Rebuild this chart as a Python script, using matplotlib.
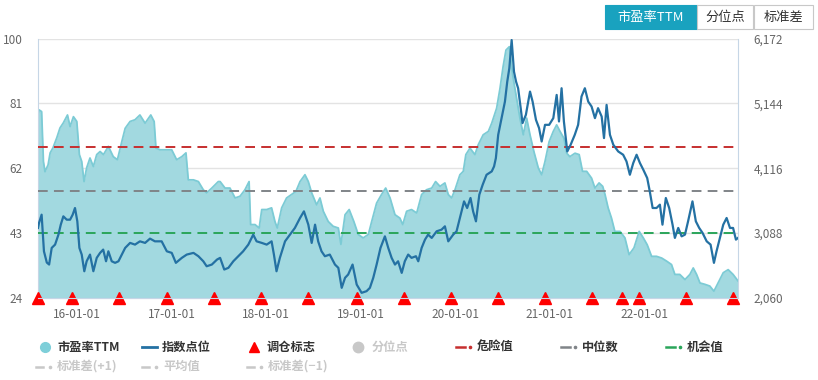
import matplotlib
matplotlib.use("Agg")
import matplotlib.pyplot as plt
import matplotlib.dates as mdates
from matplotlib.ticker import FuncFormatter
from matplotlib.patches import Rectangle
import pandas as pd

plt.rcParams['font.family'] = ['Noto Sans CJK SC', 'DejaVu Sans']

# ---------------- data ----------------
pe_dates = [
    "2015-08-03", "2015-08-07", "2015-08-17", "2015-08-24", "2015-08-30", "2015-09-11", "2015-09-19",
    "2015-09-30", "2015-10-15", "2015-10-27", "2015-11-09", "2015-11-25", "2015-12-05", "2015-12-18",
    "2015-12-31", "2016-01-10", "2016-01-19", "2016-01-28", "2016-02-07", "2016-02-20", "2016-03-04",
    "2016-03-17", "2016-03-30", "2016-04-12", "2016-05-01", "2016-05-20", "2016-06-05", "2016-06-22",
    "2016-07-05", "2016-07-24", "2016-08-12", "2016-08-31", "2016-09-20", "2016-10-12", "2016-10-25",
    "2016-11-01", "2016-11-17", "2016-12-13", "2017-01-01", "2017-01-20", "2017-02-09", "2017-02-25",
    "2017-03-06", "2017-03-26", "2017-04-14", "2017-05-03", "2017-05-16", "2017-06-05", "2017-06-30",
    "2017-07-07", "2017-07-26", "2017-08-14", "2017-09-03", "2017-09-22", "2017-10-11", "2017-10-27",
    "2017-11-02", "2017-11-19", "2017-12-05", "2017-12-15", "2018-01-03", "2018-01-22", "2018-02-04",
    "2018-02-13", "2018-03-02", "2018-03-21", "2018-04-09", "2018-04-26", "2018-05-12", "2018-05-31",
    "2018-06-13", "2018-06-26", "2018-07-15", "2018-07-28", "2018-08-10", "2018-08-29", "2018-09-17",
    "2018-10-07", "2018-10-17", "2018-11-02", "2018-11-18", "2018-12-06", "2018-12-23", "2019-01-11",
    "2019-01-31", "2019-02-13", "2019-03-04", "2019-03-23", "2019-04-08", "2019-04-25", "2019-05-14",
    "2019-06-02", "2019-06-13", "2019-06-28", "2019-07-17", "2019-08-06", "2019-08-25", "2019-09-13",
    "2019-10-03", "2019-10-18", "2019-11-04", "2019-11-23", "2019-12-06", "2019-12-19", "2020-01-01",
    "2020-01-20", "2020-02-02", "2020-02-12", "2020-02-28", "2020-03-18", "2020-03-31", "2020-04-19",
    "2020-05-09", "2020-05-22", "2020-06-10", "2020-06-23", "2020-07-05", "2020-07-16", "2020-07-29",
    "2020-08-11", "2020-08-24", "2020-09-08", "2020-09-21", "2020-10-04", "2020-10-17", "2020-11-01",
    "2020-11-18", "2020-12-01", "2020-12-14", "2020-12-30", "2021-01-15", "2021-01-28", "2021-02-10",
    "2021-02-25", "2021-03-08", "2021-03-20", "2021-04-09", "2021-04-25", "2021-05-08", "2021-05-24",
    "2021-06-12", "2021-06-25", "2021-07-11", "2021-07-25", "2021-08-03", "2021-08-15", "2021-08-28",
    "2021-09-10", "2021-09-30", "2021-10-19", "2021-11-04", "2021-11-23", "2021-12-13", "2021-12-29",
    "2022-01-13", "2022-01-30", "2022-02-18", "2022-03-10", "2022-03-29", "2022-04-17", "2022-04-30",
    "2022-05-19", "2022-06-08", "2022-06-27", "2022-07-10", "2022-07-23", "2022-08-05", "2022-08-24",
    "2022-09-12", "2022-09-28", "2022-10-14", "2022-11-03", "2022-11-22", "2022-12-11", "2022-12-30",
]
pe_values = [
    78.0, 79.1, 78.6, 64.0, 61.0, 63.0, 66.5,
    68.0, 71.0, 73.8, 75.3, 77.6, 74.2, 77.1,
    75.7, 66.0, 64.0, 58.1, 62.1, 65.0, 62.5,
    66.0, 66.9, 66.0, 68.4, 65.4, 64.5, 69.8,
    73.7, 75.7, 76.2, 77.6, 75.2, 77.6, 75.7,
    67.9, 67.4, 67.4, 67.4, 64.5, 65.4, 66.5,
    58.6, 58.6, 58.1, 55.7, 54.8, 56.2, 58.1,
    58.1, 56.2, 56.2, 53.3, 53.8, 55.7, 58.1,
    45.5, 45.5, 44.5, 49.9, 49.9, 50.4, 46.4,
    44.5, 50.4, 53.3, 54.3, 55.2, 58.1, 60.1,
    58.1, 54.8, 51.3, 53.3, 49.4, 46.4, 45.0,
    44.5, 39.7, 48.4, 49.9, 46.4, 42.6, 41.6,
    42.6, 46.4, 51.8, 54.3, 56.2, 53.3, 48.4,
    47.4, 45.5, 49.4, 49.9, 48.9, 54.3, 55.7,
    56.2, 58.1, 56.7, 57.7, 54.3, 53.3, 55.7,
    60.1, 61.1, 66.0, 67.9, 66.0, 68.9, 71.8,
    72.8, 75.2, 79.6, 85.4, 91.8, 96.6, 97.6,
    89.3, 83.5, 76.7, 71.8, 76.7, 71.8, 66.9,
    62.1, 60.1, 64.0, 69.8, 72.8, 74.7, 72.8,
    70.8, 66.4, 65.4, 66.4, 66.0, 61.1, 61.1,
    59.1, 56.2, 57.7, 56.7, 54.3, 50.4, 47.4,
    43.5, 43.5, 41.6, 36.7, 38.7, 43.5, 41.6,
    39.6, 36.2, 36.2, 35.7, 34.8, 33.8, 30.9,
    30.9, 29.4, 30.9, 32.8, 30.9, 28.4, 28.0,
    27.5, 26.0, 28.4, 31.4, 32.3, 30.9, 29.0,
]

idx_dates = [
    "2015-08-03", "2015-08-07", "2015-08-17", "2015-08-26", "2015-09-06", "2015-09-15", "2015-09-25",
    "2015-10-08", "2015-10-21", "2015-10-30", "2015-11-09", "2015-11-22", "2015-12-05", "2015-12-15",
    "2015-12-24", "2016-01-02", "2016-01-10", "2016-01-19", "2016-01-29", "2016-02-07", "2016-02-20",
    "2016-03-04", "2016-03-17", "2016-03-30", "2016-04-11", "2016-04-22", "2016-05-01", "2016-05-14",
    "2016-05-27", "2016-06-09", "2016-06-22", "2016-07-05", "2016-07-24", "2016-08-12", "2016-08-31",
    "2016-09-20", "2016-10-09", "2016-10-28", "2016-11-23", "2016-12-13", "2017-01-01", "2017-01-17",
    "2017-02-09", "2017-02-28", "2017-03-26", "2017-04-14", "2017-05-03", "2017-05-16", "2017-06-05",
    "2017-06-25", "2017-07-07", "2017-07-23", "2017-08-08", "2017-08-27", "2017-09-15", "2017-10-04",
    "2017-10-24", "2017-11-12", "2017-11-25", "2017-12-15", "2018-01-03", "2018-01-22", "2018-01-31",
    "2018-02-10", "2018-02-23", "2018-03-15", "2018-04-03", "2018-04-22", "2018-05-12", "2018-05-27",
    "2018-06-13", "2018-06-26", "2018-07-09", "2018-07-21", "2018-08-03", "2018-08-16", "2018-09-04",
    "2018-09-24", "2018-10-07", "2018-10-20", "2018-11-02", "2018-11-14", "2018-12-01", "2018-12-17",
    "2019-01-05", "2019-01-24", "2019-02-06", "2019-02-19", "2019-03-04", "2019-03-19", "2019-04-05",
    "2019-04-18", "2019-05-01", "2019-05-14", "2019-05-26", "2019-06-09", "2019-06-21", "2019-07-04",
    "2019-07-17", "2019-08-03", "2019-08-12", "2019-08-25", "2019-09-07", "2019-09-19", "2019-10-03",
    "2019-10-22", "2019-11-10", "2019-11-23", "2019-12-06", "2019-12-25", "2020-01-07", "2020-01-20",
    "2020-02-05", "2020-02-17", "2020-03-01", "2020-03-11", "2020-03-22", "2020-04-04", "2020-04-17",
    "2020-05-02", "2020-05-22", "2020-05-31", "2020-06-07", "2020-06-16", "2020-06-29", "2020-07-12",
    "2020-07-21", "2020-07-29", "2020-08-07", "2020-08-16", "2020-08-24", "2020-09-01", "2020-09-11",
    "2020-09-18", "2020-10-01", "2020-10-17", "2020-10-27", "2020-11-09", "2020-11-21", "2020-12-01",
    "2020-12-14", "2020-12-30", "2021-01-15", "2021-01-28", "2021-02-06", "2021-02-16", "2021-02-25",
    "2021-03-10", "2021-03-23", "2021-04-08", "2021-04-21", "2021-05-04", "2021-05-17", "2021-05-30",
    "2021-06-12", "2021-06-25", "2021-07-07", "2021-07-21", "2021-07-30", "2021-08-09", "2021-08-22",
    "2021-09-04", "2021-09-23", "2021-10-12", "2021-10-25", "2021-11-07", "2021-11-20", "2021-12-03",
    "2021-12-16", "2021-12-29", "2022-01-13", "2022-01-23", "2022-02-03", "2022-02-18", "2022-03-03",
    "2022-03-13", "2022-03-26", "2022-04-08", "2022-04-21", "2022-04-30", "2022-05-13", "2022-05-26",
    "2022-06-08", "2022-06-20", "2022-07-07", "2022-07-20", "2022-08-02", "2022-08-15", "2022-08-31",
    "2022-09-15", "2022-09-28", "2022-10-08", "2022-10-21", "2022-11-03", "2022-11-16", "2022-11-29",
    "2022-12-11", "2022-12-22", "2022-12-30",
]
idx_values = [
    3170, 3250, 3380, 2800, 2622, 2590, 2854,
    2906, 3064, 3222, 3354, 3301, 3301, 3380,
    3486, 3275, 2854, 2748, 2484, 2642, 2748,
    2484, 2696, 2775, 2827, 2642, 2800, 2642,
    2617, 2642, 2748, 2854, 2933, 2906, 2958,
    2933, 3001, 2958, 2958, 2800, 2775, 2617,
    2696, 2748, 2775, 2722, 2642, 2563, 2590,
    2669, 2696, 2511, 2538, 2642, 2722, 2800,
    2906, 3064, 2958, 2933, 2906, 2958, 2748,
    2484, 2696, 2958, 3064, 3170, 3328, 3433,
    3222, 2933, 3222, 2958, 2800, 2722, 2748,
    2590, 2538, 2221, 2380, 2432, 2590, 2273,
    2142, 2168, 2221, 2380, 2590, 2854, 3037,
    2854, 2696, 2590, 2642, 2458, 2642, 2748,
    2696, 2722, 2642, 2854, 2985, 3064, 3012,
    3117, 3143, 3196, 2958, 3064, 3117, 3328,
    3591, 3486, 3645, 3433, 3275, 3697, 3855,
    4013, 4066, 4145, 4277, 4646, 4910, 5172,
    5489, 5700, 6148, 5647, 5489, 5384, 5068,
    4831, 4962, 5331, 5172, 4883, 4752, 4540,
    4804, 4804, 4910, 5278, 4857, 5384, 4857,
    4382, 4488, 4646, 4804, 5252, 5384, 5172,
    5094, 4910, 5068, 4935, 4594, 5120, 4646,
    4488, 4382, 4330, 4224, 4013, 4198, 4330,
    4198, 4092, 3961, 3749, 3486, 3486, 3539,
    3222, 3645, 3486, 3222, 3012, 3170, 3037,
    3064, 3275, 3591, 3275, 3170, 3091, 2958,
    2906, 2617, 2800, 3012, 3222, 3328, 3170,
    3170, 2985, 3012,
]

rebalance_dates = [
    "2015-08-03", "2015-12-14", "2016-06-13", "2016-12-12", "2017-06-12", "2017-12-11",
    "2018-06-11", "2018-12-17", "2019-06-17", "2019-12-16", "2020-06-15", "2020-12-14",
    "2021-06-15", "2021-10-08", "2021-12-13", "2022-06-13", "2022-12-12",
]

danger_value = 68.2
median_value = 55.4
chance_value = 42.9

pe_ticks = [24, 43, 62, 81, 100]
idx_ticks = [2060, 3088, 4116, 5144, 6172]
x_tick_dates = ["2016-01-01", "2017-01-01", "2018-01-01", "2019-01-01",
                "2020-01-01", "2021-01-01", "2022-01-01"]

buttons = ["市盈率TTM", "分位点", "标准差"]
legend_row1 = ["市盈率TTM", "指数点位", "调仓标志", "分位点", "危险值", "中位数", "机会值"]
legend_row2 = ["标准差(+1)", "平均值", "标准差(−1)"]

# ---------------- style ----------------
FILL = "#a2d9e0"
EDGE = "#7ccbd5"
IDX = "#2471a3"
RED = "#c62f2f"
GREY = "#808488"
GREEN = "#2aa55a"
GRID = "#e3e3e3"
AXIS = "#c6d6e6"
TXT = "#666666"
W, H = 818, 380

pe_d = pd.to_datetime(pe_dates)
idx_d = pd.to_datetime(idx_dates)
reb_d = pd.to_datetime(rebalance_dates)

fig = plt.figure(figsize=(W / 100, H / 100), dpi=100)
L, R, T, B = 38, 738, 38.5, 298
ax = fig.add_axes([L / W, 1 - B / H, (R - L) / W, (B - T) / H])
ax2 = ax.twinx()

# PE area
ax.fill_between(pe_d, pe_values, pe_ticks[0], color=FILL, lw=0, zorder=1)
ax.plot(pe_d, pe_values, color=EDGE, lw=1.3, zorder=2)

# threshold lines
for v, c in [(danger_value, RED), (median_value, GREY), (chance_value, GREEN)]:
    ax.axhline(v, color=c, lw=1.4, dashes=(5, 3.2), zorder=3)

# rebalance markers
ax.plot(reb_d, [pe_ticks[0]] * len(reb_d), linestyle="none", marker="^",
        color="#ff0000", markersize=8, clip_on=False, zorder=6)

# index line
ax2.plot(idx_d, idx_values, color=IDX, lw=1.6, zorder=4)

xmin = min(pe_d.min(), idx_d.min())
xmax = max(pe_d.max(), idx_d.max())
ax.set_xlim(xmin, xmax)
ax.set_ylim(pe_ticks[0], pe_ticks[-1])
ax2.set_ylim(idx_ticks[0], idx_ticks[-1])

ax.set_yticks(pe_ticks)
ax2.set_yticks(idx_ticks)
ax2.yaxis.set_major_formatter(FuncFormatter(lambda v, p: f"{int(round(v)):,}"))
ax.set_xticks(pd.to_datetime(x_tick_dates))
ax.xaxis.set_major_formatter(mdates.DateFormatter("%y-%m-%d"))

ax.grid(axis="y", color=GRID, lw=1.0, zorder=0)
ax.set_axisbelow(True)
for a in (ax, ax2):
    a.spines["top"].set_visible(False)
    a.spines["left"].set_color(AXIS)
    a.spines["right"].set_color(AXIS)
    a.spines["bottom"].set_color(AXIS)
    a.tick_params(axis="y", length=0, labelsize=8.5, labelcolor=TXT)
ax.spines["right"].set_visible(False)
ax2.spines["left"].set_visible(False)
ax.tick_params(axis="x", length=4, color=AXIS, labelsize=8.5, labelcolor=TXT, pad=3)
ax.tick_params(axis="y", pad=11)
ax2.tick_params(axis="y", pad=11)

# ---------------- overlay: buttons + legend ----------------
ov = fig.add_axes([0, 0, 1, 1])
ov.set_xlim(0, W)
ov.set_ylim(H, 0)
ov.axis("off")
ov.patch.set_alpha(0)

btn_x = [605, 697, 754]
btn_w = [92, 56, 59]
for i, (lbl, bx, bw) in enumerate(zip(buttons, btn_x, btn_w)):
    sel = i == 0
    ov.add_patch(Rectangle((bx, 5), bw, 24, facecolor="#19a2bf" if sel else "white",
                           edgecolor="#19a2bf" if sel else "#c8c8c8", lw=0.8))
    ov.text(bx + bw / 2, 17.5, lbl, ha="center", va="center", fontsize=9.5,
            color="white" if sel else "#333333")

DARK = "#333333"
LIGHT = "#c8c8c8"
y1, y2 = 347, 366.5
fs = 8.8
# row 1
ov.plot([45], [y1], marker="o", markersize=7, color="#7ecfd9", linestyle="none")
ov.text(57, y1, legend_row1[0], va="center", fontsize=fs, color=DARK, fontweight="bold")
ov.plot([142, 157], [y1, y1], color=IDX, lw=2)
ov.text(162, y1, legend_row1[1], va="center", fontsize=fs, color=DARK, fontweight="bold")
ov.plot([254], [y1], marker="^", markersize=6.5, color="#ff0000", linestyle="none")
ov.text(267, y1, legend_row1[2], va="center", fontsize=fs, color=DARK, fontweight="bold")
ov.plot([358], [y1], marker="o", markersize=7.5, color=LIGHT, linestyle="none")
ov.text(372, y1, legend_row1[3], va="center", fontsize=fs, color=LIGHT, fontweight="bold")
for (xs, lbl, col) in [(456, legend_row1[4], RED), (561, legend_row1[5], GREY), (666, legend_row1[6], GREEN)]:
    ov.plot([xs, xs + 9], [y1, y1], color=col, lw=1.8)
    ov.plot([xs + 14], [y1], marker="o", markersize=1.6, color=col, linestyle="none")
    ov.text(xs + 21, y1, lbl, va="center", fontsize=fs, color=DARK, fontweight="bold")
# row 2
for (xs, lbl) in [(36, legend_row2[0]), (142, legend_row2[1]), (247, legend_row2[2])]:
    ov.plot([xs, xs + 7], [y2, y2], color=LIGHT, lw=1.8)
    ov.plot([xs + 14], [y2], marker="o", markersize=1.6, color=LIGHT, linestyle="none")
    ov.text(xs + 21, y2, lbl, va="center", fontsize=fs, color=LIGHT, fontweight="bold")

fig.savefig("out.png", dpi=100)
